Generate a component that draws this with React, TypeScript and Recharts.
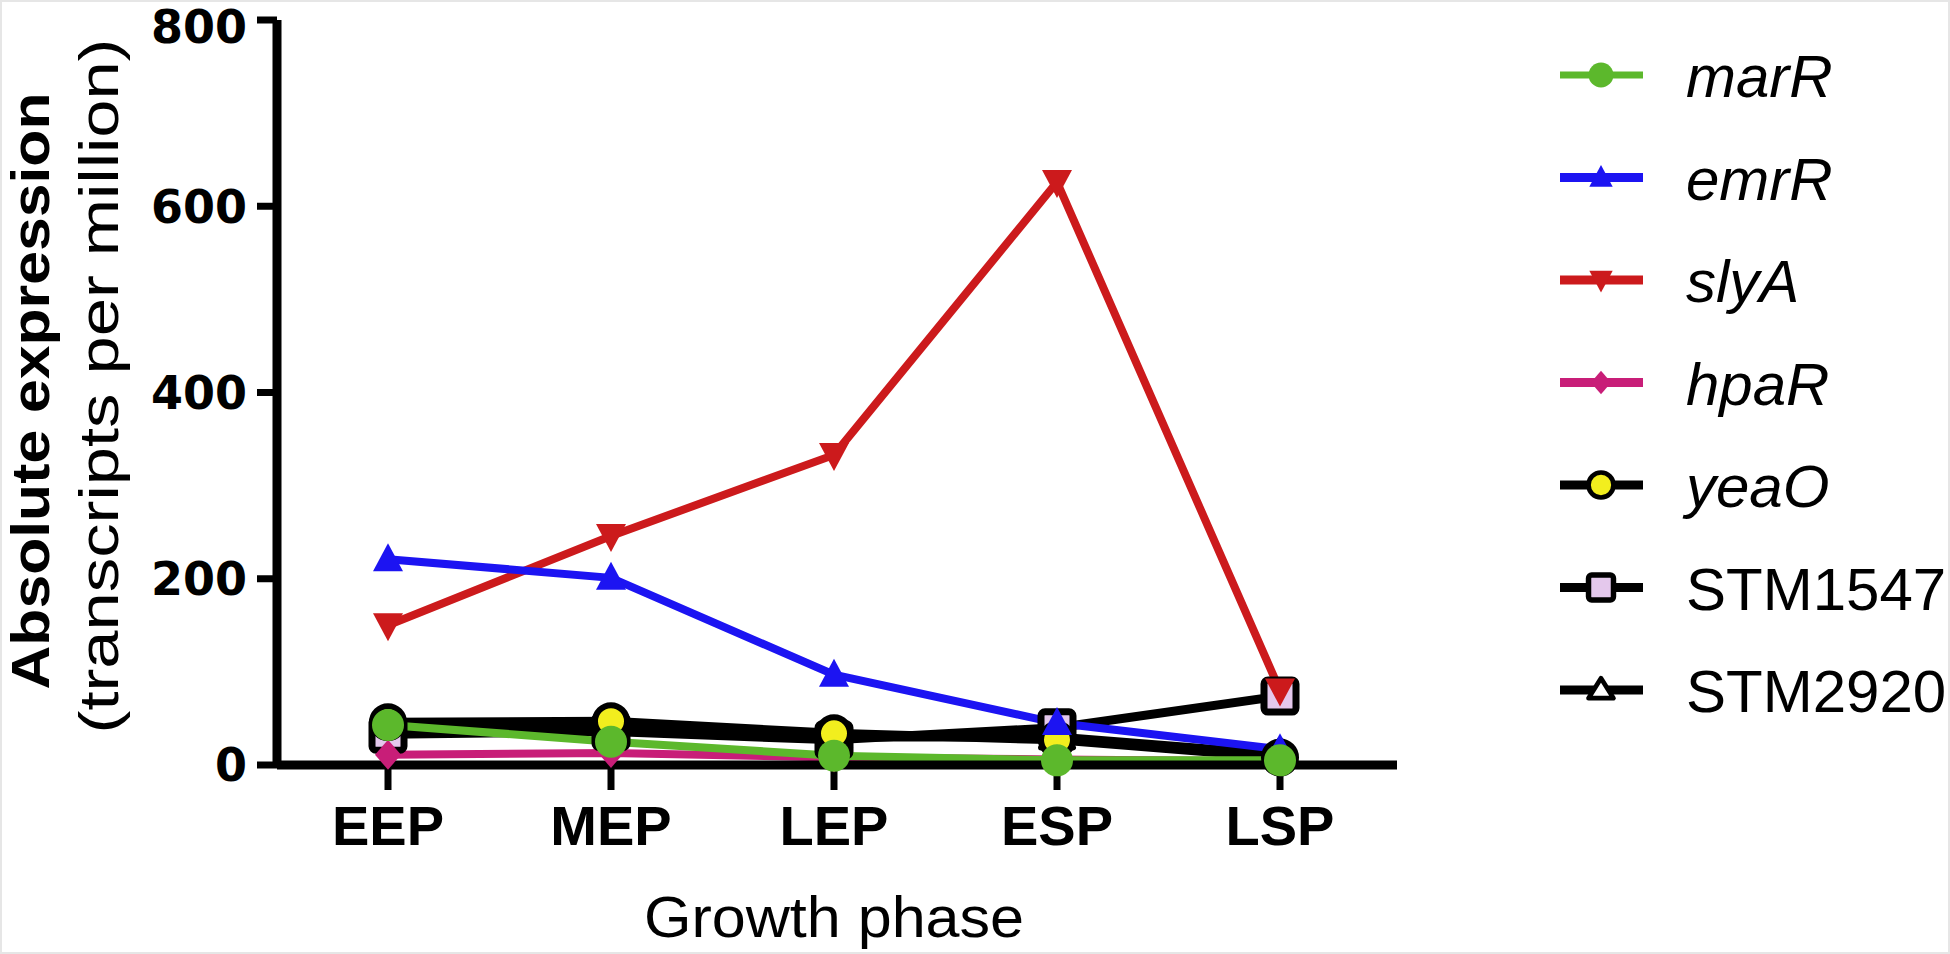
import React from 'react';
import { LineChart, Line, XAxis, YAxis, Legend } from 'recharts';

// growth phases and expression values (transcripts per million)
const phases = ['EEP', 'MEP', 'LEP', 'ESP', 'LSP'];
const marR = [43, 25, 10, 5, 5];
const emrR = [221, 201, 97, 45, 17];
const slyA = [150, 246, 333, 626, 80];
const hpaR = [11, 13, 8, 6, 4];
const yeaO = [46, 47, 34, 27, 8];
const stm1547 = [33, 36, 27, 40, 74];
const stm2920 = [38, 40, 30, 30, 11];
const yTicks = [0, 200, 400, 600, 800];

const data = phases.map((p, i) => ({
  phase: p,
  marR: marR[i],
  emrR: emrR[i],
  slyA: slyA[i],
  hpaR: hpaR[i],
  yeaO: yeaO[i],
  STM1547: stm1547[i],
  STM2920: stm2920[i],
}));

const FONT = '"Liberation Sans", Arial, sans-serif';

type Shape = 'circle' | 'up' | 'down' | 'diamond' | 'square' | 'openUp';

interface SeriesDef {
  key: string;
  color: string;
  shape: Shape;
  fill: string;
  italic: boolean;
}

const series: SeriesDef[] = [
  { key: 'marR', color: '#5cb82c', shape: 'circle', fill: '#5cb82c', italic: true },
  { key: 'emrR', color: '#1c14f2', shape: 'up', fill: '#1c14f2', italic: true },
  { key: 'slyA', color: '#cc1a1c', shape: 'down', fill: '#cc1a1c', italic: true },
  { key: 'hpaR', color: '#c81e78', shape: 'diamond', fill: '#c81e78', italic: true },
  { key: 'yeaO', color: '#000000', shape: 'circle', fill: '#f2ee1e', italic: true },
  { key: 'STM1547', color: '#000000', shape: 'square', fill: '#e4c8ec', italic: false },
  { key: 'STM2920', color: '#000000', shape: 'openUp', fill: '#ffffff', italic: false },
];

function marker(s: SeriesDef, cx: number, cy: number, scale = 1, key?: string | number) {
  const outlined = s.color === '#000000';
  if (s.shape === 'circle') {
    return outlined ? (
      <circle key={key} cx={cx} cy={cy} r={16 * scale} fill={s.fill} stroke="#000" strokeWidth={6 * scale} />
    ) : (
      <circle key={key} cx={cx} cy={cy} r={16 * scale} fill={s.fill} />
    );
  }
  if (s.shape === 'up') {
    const h = 16 * scale, w = 15 * scale;
    return <path key={key} d={`M${cx},${cy - h} L${cx + w},${cy + h * 0.75} L${cx - w},${cy + h * 0.75} Z`} fill={s.fill} />;
  }
  if (s.shape === 'down') {
    const h = 16 * scale, w = 15 * scale;
    return <path key={key} d={`M${cx},${cy + h} L${cx + w},${cy - h * 0.75} L${cx - w},${cy - h * 0.75} Z`} fill={s.fill} />;
  }
  if (s.shape === 'diamond') {
    const h = 15 * scale, w = 13 * scale;
    return <path key={key} d={`M${cx},${cy - h} L${cx + w},${cy} L${cx},${cy + h} L${cx - w},${cy} Z`} fill={s.fill} />;
  }
  if (s.shape === 'square') {
    const a = 16 * scale;
    return <rect key={key} x={cx - a} y={cy - a} width={2 * a} height={2 * a} rx={4 * scale} fill={s.fill} stroke="#000" strokeWidth={7 * scale} />;
  }
  const h = 15 * scale, w = 16 * scale;
  return (
    <path key={key} d={`M${cx},${cy - h} L${cx + w},${cy + h * 0.7} L${cx - w},${cy + h * 0.7} Z`} fill={s.fill} stroke="#000" strokeWidth={6 * scale} strokeLinejoin="round" />
  );
}

const dotFor = (s: SeriesDef) => (props: any) => {
  const { cx, cy, index } = props;
  if (cx == null || cy == null) return <g key={index} />;
  return marker(s, cx, cy, 1, index);
};

function LegendBox() {
  return (
    <svg width={400} height={760} style={{ overflow: 'visible', display: 'block' }}>
      {series.map((s, i) => {
        const y = 75 + i * 102.5;
        return (
          <g key={s.key}>
            <line x1={10} x2={93} y1={y} y2={y} stroke={s.color} strokeWidth={s.key === 'marR' ? 7 : 9} />
            {marker(s, 51, y, 0.78)}
            <text
              x={136}
              y={y + 22}
              fontSize={60}
              fontFamily={FONT}
              fontStyle={s.italic ? 'italic' : 'normal'}
              fill="#000"
            >
              {s.key}
            </text>
          </g>
        );
      })}
    </svg>
  );
}

function YTitle() {
  return (
    <g fontFamily={FONT} fill="#000">
      <text transform="translate(49,391) rotate(-90)" textAnchor="middle" fontSize={54} fontWeight="bold" textLength={597} lengthAdjust="spacingAndGlyphs">
        Absolute expression
      </text>
      <text transform="translate(118,386) rotate(-90)" textAnchor="middle" fontSize={56} textLength={695} lengthAdjust="spacingAndGlyphs">
        (transcripts per million)
      </text>
    </g>
  );
}

function XTitle() {
  return (
    <text x={834} y={937} textAnchor="middle" fontFamily={FONT} fontSize={58} fill="#000" textLength={380} lengthAdjust="spacingAndGlyphs">
      Growth phase
    </text>
  );
}

export default function App() {
  const drawOrder = [...series].reverse();
  return (
    <div style={{ width: 1950, height: 954, overflow: 'hidden', position: 'relative', background: '#fff', boxSizing: 'border-box', border: '2px solid #e6e6e6' }}>
      <style>{'body{margin:0;}'}</style>
      <div style={{ position: 'absolute', left: -2, top: -2 }}>
        <LineChart width={1950} height={954} data={data} margin={{ top: 20, right: 153, bottom: 0, left: 0 }}>
          <XAxis
            dataKey="phase"
            height={189}
            padding={{ left: 111, right: 117 }}
            axisLine={{ stroke: '#000', strokeWidth: 9 }}
            tickLine={{ stroke: '#000', strokeWidth: 7 }}
            tickSize={25}
            tickMargin={15}
            tick={{ fontSize: 56, fontWeight: 'bold', fontFamily: FONT, fill: '#000' }}
            label={<XTitle />}
          />
          <YAxis
            width={277}
            domain={[0, 800]}
            ticks={yTicks}
            axisLine={{ stroke: '#000', strokeWidth: 9 }}
            tickLine={{ stroke: '#000', strokeWidth: 7 }}
            tickSize={20}
            tickMargin={10}
            tick={{ fontSize: 46, fontWeight: 'bold', fontFamily: '"DejaVu Sans", sans-serif', fill: '#000' }}
            label={<YTitle />}
          />
          <Legend
            layout="vertical"
            align="right"
            verticalAlign="top"
            content={<LegendBox />}
            wrapperStyle={{ position: 'absolute', left: 1550, top: 0, width: 400, height: 760 }}
          />
          {drawOrder.map((s) => (
            <Line
              key={s.key}
              dataKey={s.key}
              type="linear"
              stroke={s.color}
              strokeWidth={s.color === '#000000' ? 9 : 8}
              dot={dotFor(s)}
              activeDot={false}
              isAnimationActive={false}
            />
          ))}
        </LineChart>
      </div>
    </div>
  );
}
